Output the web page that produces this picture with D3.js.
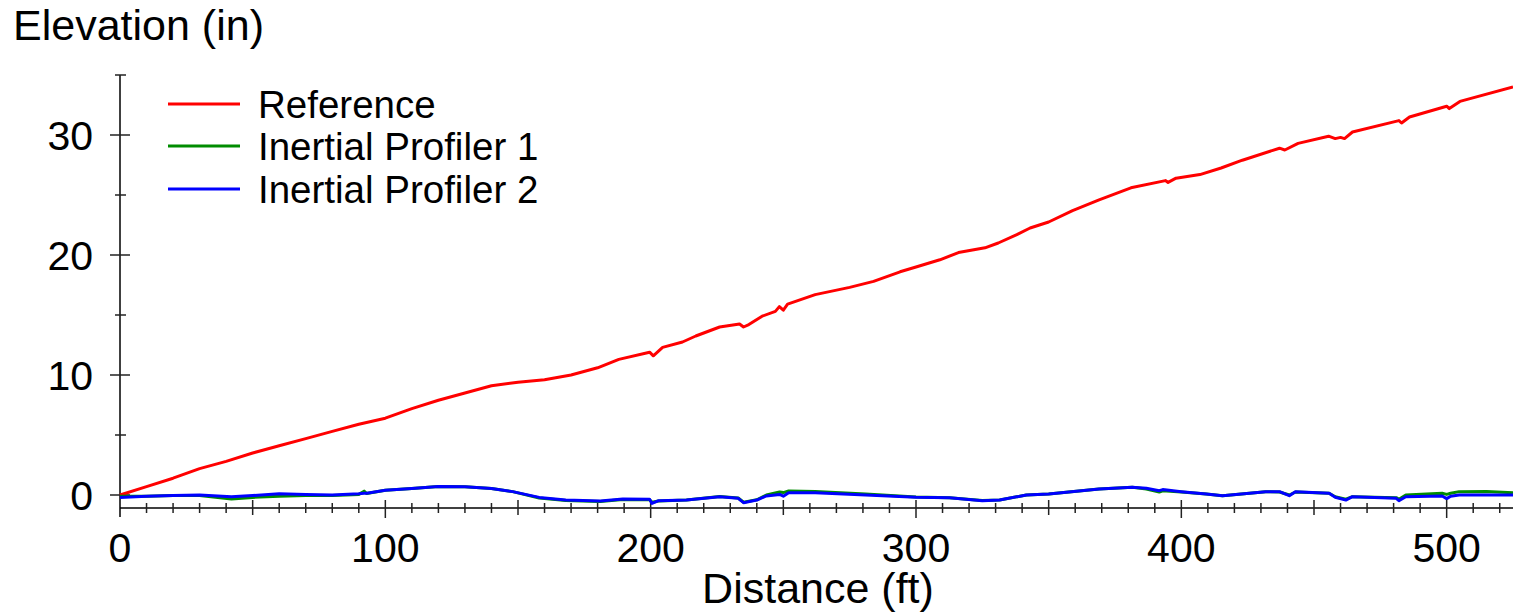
<!DOCTYPE html>
<html>
<head>
<meta charset="utf-8">
<script src="https://cdn.jsdelivr.net/npm/d3@7"></script>
<style>
  body { margin: 0; background: #fff; }
  svg { display: block; font-family: "Liberation Sans", Arial, sans-serif; }
</style>
</head>
<body>
<svg id="chart" width="1513" height="612"></svg>
<script>
// Reference profile (distance ft, elevation in)
var refDist = [0, 10, 20, 30, 40, 50, 60, 70, 80, 90, 100, 110, 120, 130, 140, 150, 160, 170, 180, 188,
    199.6, 201, 204.5, 212, 217, 226, 233.5, 235, 237, 242, 247, 248.5, 250, 251.6, 262, 275, 284, 294, 300,
    309, 316, 326, 331, 338, 343, 350, 359, 369, 381, 394, 395, 398, 407, 415, 423, 437, 439, 444, 455.5,
    458, 460, 461.5, 464.5, 482, 483, 486, 500, 501, 505, 525];
var refElev = [0, 0.7, 1.4, 2.2, 2.8, 3.5, 4.1, 4.7, 5.3, 5.9, 6.4, 7.2, 7.9, 8.5, 9.1, 9.4, 9.6, 10.0, 10.6, 11.3,
    11.9, 11.6, 12.3, 12.75, 13.25, 14.0, 14.25, 14.0, 14.2, 14.9, 15.3, 15.7, 15.4, 15.9, 16.7, 17.3, 17.8, 18.6, 19.0,
    19.6, 20.2, 20.6, 21.0, 21.7, 22.25, 22.75, 23.7, 24.6, 25.6, 26.2, 26.05, 26.4, 26.7, 27.25, 27.9, 28.9, 28.75, 29.3, 29.9,
    29.7, 29.8, 29.7, 30.25, 31.2, 31.0, 31.5, 32.4, 32.2, 32.8, 34.0];

// Inertial profilers share the same distances
var ipDist = [0, 10, 20, 30, 42, 50, 60, 70, 80, 90, 92, 93, 100, 110, 120, 130, 140, 148, 158, 168,
    181, 189.5, 199.6, 200.5, 203, 213.5, 226, 233, 235, 240, 243.6, 248.6, 250, 252, 262, 281, 300, 312.6, 325, 331.5,
    341.6, 350, 369, 381.5, 386.8, 391.7, 393, 400, 409.4, 415.5, 431.8, 437, 440.7, 443, 455.7, 458, 462, 464.5, 481, 482,
    484.6, 498.3, 500, 501.5, 504.7, 515, 525];
var ip1Elev = [-0.1, -0.1, -0.05, -0.05, -0.33, -0.2, -0.1, -0.05, -0.05, 0.05, 0.32, 0.12, 0.4, 0.55, 0.7, 0.68, 0.55, 0.28, -0.25, -0.45,
    -0.55, -0.38, -0.4, -0.6, -0.5, -0.42, -0.12, -0.25, -0.6, -0.4, 0, 0.25, 0.2, 0.33, 0.3, 0.08, -0.17, -0.22, -0.45, -0.42,
    0, 0.08, 0.5, 0.64, 0.5, 0.25, 0.35, 0.25, 0.08, -0.06, 0.28, 0.25, 0, 0.25, 0.14, -0.15, -0.35, -0.14, -0.22, -0.35,
    0, 0.14, 0.05, 0.14, 0.28, 0.3, 0.19];
var ip2Elev = [-0.2, -0.1, -0.05, 0, -0.15, -0.05, 0.1, 0.05, 0, 0.1, 0.15, 0.15, 0.4, 0.55, 0.7, 0.68, 0.55, 0.28, -0.2, -0.42,
    -0.5, -0.33, -0.36, -0.7, -0.47, -0.42, -0.14, -0.28, -0.64, -0.42, -0.08, 0.05, -0.1, 0.19, 0.19, 0, -0.19, -0.22, -0.47, -0.42,
    0, 0.08, 0.5, 0.64, 0.56, 0.36, 0.45, 0.28, 0.08, -0.06, 0.28, 0.28, -0.06, 0.28, 0.14, -0.19, -0.42, -0.14, -0.28, -0.47,
    -0.14, -0.08, -0.3, -0.1, 0, 0, 0];

var seriesNames = ["Reference", "Inertial Profiler 1", "Inertial Profiler 2"];
var seriesColors = ["#ff0000", "#008c00", "#0000ff"];

var xMajor = [0, 100, 200, 300, 400, 500];
var yMajor = [0, 10, 20, 30];

var svg = d3.select("#chart");

var x = d3.scaleLinear().domain([0, 525]).range([120, 1513]);
var y = d3.scaleLinear().domain([0, 35]).range([495, 75]);
var axisY = 508; // x axis sits a bit under zero

var series = [
    {name: seriesNames[0], color: seriesColors[0], pts: refDist.map(function(d, i){ return [d, refElev[i]]; })},
    {name: seriesNames[1], color: seriesColors[1], pts: ipDist.map(function(d, i){ return [d, ip1Elev[i]]; })},
    {name: seriesNames[2], color: seriesColors[2], pts: ipDist.map(function(d, i){ return [d, ip2Elev[i]]; })}
];

// y axis
var yAxis = svg.append("g").attr("transform", "translate(120,0)");
yAxis.append("line").attr("y1", y(35)).attr("y2", 517).attr("stroke", "#000").attr("stroke-width", 1.5);
yAxis.selectAll("line.minor").data(d3.range(5, 36, 10)).enter().append("line")
    .attr("x1", -5).attr("x2", 6)
    .attr("y1", function(d){ return y(d); }).attr("y2", function(d){ return y(d); })
    .attr("stroke", "#222").attr("stroke-width", 1.5);
yAxis.selectAll("line.major").data(yMajor).enter().append("line")
    .attr("x1", -10).attr("x2", 10)
    .attr("y1", function(d){ return y(d); }).attr("y2", function(d){ return y(d); })
    .attr("stroke", "#222").attr("stroke-width", 1.5);
yAxis.selectAll("text").data(yMajor).enter().append("text")
    .attr("x", -27).attr("y", function(d){ return y(d) + 15; })
    .attr("text-anchor", "end").attr("font-size", 41)
    .text(function(d){ return d; });

// x axis
var xAxis = svg.append("g").attr("transform", "translate(0," + axisY + ")");
xAxis.append("line").attr("x1", x(0)).attr("x2", 1513).attr("stroke", "#000").attr("stroke-width", 1.5);
xAxis.selectAll("line.tick").data(d3.range(10, 526, 10)).enter().append("line")
    .attr("x1", function(d){ return x(d); }).attr("x2", function(d){ return x(d); })
    .attr("y1", function(d){ return d % 100 == 0 ? -8 : (d % 50 == 0 ? -8 : -5); })
    .attr("y2", function(d){ return d % 100 == 0 ? 10 : (d % 50 == 0 ? 7 : 5); })
    .attr("stroke", "#222").attr("stroke-width", 1.5);
xAxis.selectAll("text").data(xMajor).enter().append("text")
    .attr("x", function(d){ return x(d); }).attr("y", 54)
    .attr("text-anchor", "middle").attr("font-size", 41)
    .text(function(d){ return d; });

// titles
svg.append("text").attr("x", 13).attr("y", 40).attr("font-size", 43).text("Elevation (in)");
svg.append("text").attr("x", 818).attr("y", 603).attr("text-anchor", "middle").attr("font-size", 43).text("Distance (ft)");

// lines
var line = d3.line()
    .x(function(d){ return x(d[0]); })
    .y(function(d){ return y(d[1]); });

svg.selectAll("path.series").data(series).enter().append("path")
    .attr("class", "series")
    .attr("d", function(d){ return line(d.pts); })
    .attr("fill", "none")
    .attr("stroke", function(d){ return d.color; })
    .attr("stroke-width", 3)
    .attr("stroke-linejoin", "round");

// legend
var legend = svg.append("g");
var legendY = [104, 146, 189];
legend.selectAll("line").data(series).enter().append("line")
    .attr("x1", 168).attr("x2", 240)
    .attr("y1", function(d, i){ return legendY[i]; }).attr("y2", function(d, i){ return legendY[i]; })
    .attr("stroke", function(d){ return d.color; }).attr("stroke-width", 3);
legend.selectAll("text").data(series).enter().append("text")
    .attr("x", 258).attr("y", function(d, i){ return legendY[i] + 14; })
    .attr("font-size", 38.5)
    .text(function(d){ return d.name; });
</script>
</body>
</html>
